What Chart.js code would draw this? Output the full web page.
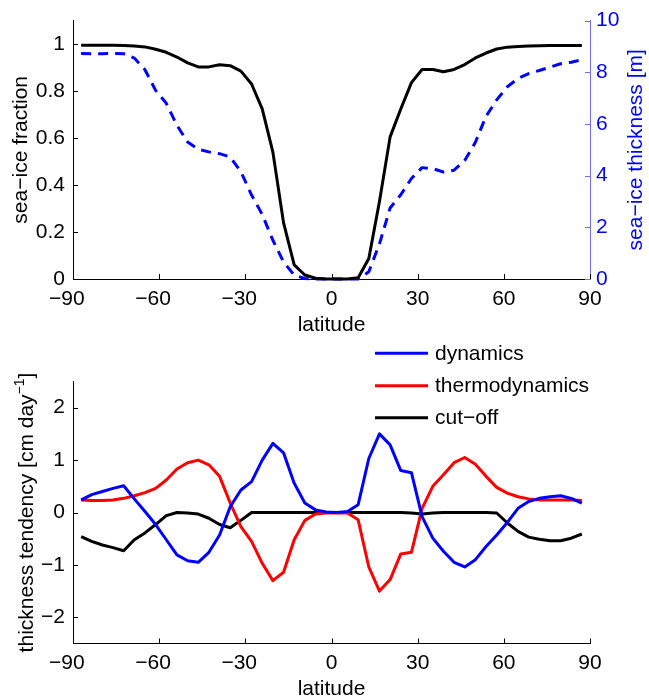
<!DOCTYPE html>
<html><head><meta charset="utf-8">
<script src="https://cdn.jsdelivr.net/npm/chart.js@4.4.0/dist/chart.umd.min.js"></script>
<style>
html,body{margin:0;padding:0;background:#fff;overflow:hidden;width:649px;height:697px}
#c1{position:absolute;left:0;top:0}
#c2{position:absolute;left:0;top:340px}
</style>
</head><body>
<canvas id="c1" width="649" height="340"></canvas>
<canvas id="c2" width="649" height="357"></canvas>
<script>
// ---- data ----
const latitudes = [-87.16,-83.48,-79.78,-76.07,-72.36,-68.65,-64.94,-61.23,-57.52,-53.81,-50.10,-46.39,-42.68,-38.97,-35.26,-31.54,-27.83,-24.12,-20.41,-16.70,-12.99,-9.28,-5.57,-1.86,1.86,5.57,9.28,12.99,16.70,20.41,24.12,27.83,31.54,35.26,38.97,42.68,46.39,50.10,53.81,57.52,61.23,64.94,68.65,72.36,76.07,79.78,83.48,87.16];
const iceFraction = [0.995,0.995,0.995,0.995,0.994,0.992,0.988,0.978,0.965,0.945,0.92,0.903,0.903,0.912,0.908,0.885,0.83,0.724,0.54,0.24,0.06,0.017,0.003,0,0,0,0.005,0.087,0.33,0.605,0.724,0.836,0.892,0.892,0.882,0.892,0.913,0.941,0.962,0.979,0.987,0.99,0.992,0.993,0.994,0.994,0.994,0.994];
const iceThickness = [8.73,8.72,8.72,8.73,8.72,8.55,8.1,7.3,6.8,5.95,5.3,5.02,4.92,4.85,4.72,4.15,3.25,2.5,1.5,0.66,0.15,0.02,0,0,0,0,0,0.28,1.36,2.75,3.26,3.89,4.31,4.27,4.14,4.21,4.59,5.29,6.3,6.93,7.44,7.76,7.95,8.07,8.2,8.33,8.39,8.48];
const dynamics = [0.24,0.34,0.40,0.46,0.51,0.26,0.02,-0.23,-0.52,-0.81,-0.92,-0.95,-0.76,-0.43,0.11,0.43,0.59,1.0,1.32,1.14,0.56,0.18,0.05,0.01,0.0,0.02,0.15,1.03,1.5,1.29,0.8,0.76,-0.08,-0.49,-0.74,-0.95,-1.04,-0.9,-0.65,-0.43,-0.19,0.08,0.21,0.27,0.30,0.32,0.27,0.18];
const thermodynamics = [0.24,0.23,0.23,0.24,0.27,0.32,0.38,0.46,0.62,0.83,0.95,1.0,0.91,0.69,0.18,-0.27,-0.55,-0.97,-1.3,-1.14,-0.52,-0.15,-0.03,-0.01,-0.01,-0.01,-0.14,-1.04,-1.5,-1.28,-0.79,-0.76,0.08,0.5,0.72,0.95,1.05,0.92,0.69,0.48,0.37,0.30,0.26,0.24,0.24,0.24,0.24,0.23];
const cutoff = [-0.46,-0.55,-0.62,-0.67,-0.73,-0.52,-0.39,-0.23,-0.06,0,-0.01,-0.03,-0.11,-0.23,-0.29,-0.15,0,0,0,0,0,0,0,0,0,0,0,0,0,0,0,-0.01,-0.03,-0.01,0,0,0,0,0,-0.01,-0.2,-0.36,-0.47,-0.51,-0.54,-0.54,-0.49,-0.41];
const seriesNames = ['dynamics','thermodynamics','cut\u2212off'];
const xTicks = [-90,-60,-30,0,30,60,90];
const xTickLabels = ['\u221290','\u221260','\u221230','0','30','60','90'];
const fracTicks = [0,0.2,0.4,0.6,0.8,1];
const fracTickLabels = ['0','0.2','0.4','0.6','0.8','1'];
const thickTicks = [0,2,4,6,8,10];
const thickTickLabels = ['0','2','4','6','8','10'];
const tendTicks = [-2,-1,0,1,2];
const tendTickLabels = ['\u22122','\u22121','0','1','2'];

const FONT = "'Liberation Sans', Arial, Helvetica, sans-serif";
const FS = 21;
const pts = vals => latitudes.map((x, i) => ({x, y: vals[i]}));
const setTicks = arr => s => { s.ticks = arr.map(v => ({value: v})); };

function drawParts(ctx, parts, cx, cy, rotate, color) {
  let total = 0;
  parts.forEach(p => { ctx.font = p.size + 'px ' + FONT; p.w = ctx.measureText(p.text).width; total += p.w; });
  ctx.save();
  ctx.translate(cx, cy);
  if (rotate) ctx.rotate(-Math.PI / 2);
  ctx.fillStyle = color;
  ctx.textAlign = 'left';
  ctx.textBaseline = 'alphabetic';
  let x = -total / 2;
  parts.forEach(p => { ctx.font = p.size + 'px ' + FONT; ctx.fillText(p.text, x, -(p.rise || 0)); x += p.w; });
  ctx.restore();
}

const decor = {
  id: 'decor',
  afterDraw(chart, args, o) {
    const ctx = chart.ctx, ca = chart.chartArea;
    ctx.save();
    ctx.lineWidth = 1;
    for (const id in chart.scales) {
      const s = chart.scales[id];
      ctx.strokeStyle = s.options.border.color;
      ctx.beginPath();
      for (const t of s.ticks) {
        const p = Math.round(s.getPixelForValue(t.value)) + 0.5;
        if (s.isHorizontal()) { ctx.moveTo(p, s.top); ctx.lineTo(p, s.top - o.tickLen); }
        else if (s.position === 'left') { ctx.moveTo(s.right, p); ctx.lineTo(s.right + o.tickLen, p); }
        else { ctx.moveTo(s.left, p); ctx.lineTo(s.left - o.tickLen, p); }
      }
      ctx.stroke();
    }
    // x tick labels: digits centred on the tick, minus sign hanging left
    const xs = chart.scales.x;
    ctx.font = FS + 'px ' + FONT;
    ctx.fillStyle = '#000';
    ctx.textAlign = 'right';
    ctx.textBaseline = 'alphabetic';
    xs.ticks.forEach((t, i) => {
      const lab = xTickLabels[i];
      const w = ctx.measureText(lab.replace('\u2212', '')).width;
      ctx.fillText(lab, xs.getPixelForValue(t.value) + w / 2, xs.top + o.xLabelBase);
    });
    // axis titles
    const midX = (ca.left + ca.right) / 2, midY = (ca.top + ca.bottom) / 2;
    o.titles.forEach(tt => {
      if (tt.axis === 'x') drawParts(ctx, tt.parts, midX, xs.top + tt.offset, false, tt.color);
      else drawParts(ctx, tt.parts, tt.x, midY, true, tt.color);
    });
    // legend
    if (o.legend) {
      const L = o.legend;
      chart.data.datasets.forEach((d, i) => {
        const y = L.ys[i];
        ctx.strokeStyle = d.borderColor;
        ctx.lineWidth = d.borderWidth;
        ctx.setLineDash([]);
        ctx.beginPath(); ctx.moveTo(L.x1, y); ctx.lineTo(L.x2, y); ctx.stroke();
        ctx.fillStyle = '#000';
        ctx.font = FS + 'px ' + FONT;
        ctx.textAlign = 'left';
        ctx.textBaseline = 'middle';
        ctx.fillText(d.label, L.tx, y + 1);
      });
    }
    ctx.restore();
  }
};

const xScale = (h) => ({
  type: 'linear', min: -90, max: 90,
  afterBuildTicks: setTicks(xTicks),
  ticks: {display: false},
  grid: {display: false, drawTicks: false},
  border: {display: true, color: '#000', width: 1},
  afterFit: s => { s.height = h; }
});

new Chart(document.getElementById('c1'), {
  type: 'line',
  data: {
    datasets: [
      {label: 'sea\u2212ice fraction', data: pts(iceFraction), yAxisID: 'y', borderColor: '#000', borderWidth: 3, pointRadius: 0, tension: 0, clip: false, borderJoinStyle: 'round'},
      {label: 'sea\u2212ice thickness', data: pts(iceThickness), yAxisID: 'y2', borderColor: '#0000ff', borderWidth: 3, borderDash: [10, 7], pointRadius: 0, tension: 0, clip: false, borderJoinStyle: 'round'}
    ]
  },
  options: {
    responsive: false, animation: false, devicePixelRatio: 1,
    layout: {padding: {top: 17, left: 0, right: 0, bottom: 0}},
    plugins: {
      legend: {display: false}, tooltip: {enabled: false},
      decor: {
        tickLen: 5, xLabelBase: 26,
        titles: [
          {axis: 'x', offset: 51.5, color: '#000', parts: [{text: 'latitude', size: FS}]},
          {axis: 'y', x: 27, color: '#000', parts: [{text: 'sea\u2212ice fraction', size: FS}]},
          {axis: 'y', x: 642, color: '#0000ff', parts: [{text: 'sea\u2212ice thickness [m]', size: FS}]}
        ]
      }
    },
    scales: {
      x: xScale(61),
      y: {
        position: 'left', min: 0, max: 1.1,
        afterBuildTicks: setTicks(fracTicks),
        ticks: {color: '#000', font: {family: FONT, size: FS}, padding: 8, callback: (v, i) => fracTickLabels[i]},
        grid: {display: false, drawTicks: false},
        border: {display: true, color: '#000', width: 1},
        afterFit: s => { s.width = 73; }
      },
      y2: {
        position: 'right', min: 0, max: 10,
        afterBuildTicks: setTicks(thickTicks),
        ticks: {color: '#0000ff', font: {family: FONT, size: FS}, padding: 6, callback: (v, i) => thickTickLabels[i]},
        grid: {display: false, drawTicks: false},
        border: {display: true, color: '#7070ff', width: 1},
        afterFit: s => { s.width = 59; }
      }
    }
  },
  plugins: [decor]
});

const colors = ['#0000ff', '#ff0000', '#000000'];
const tendSeries = [dynamics, thermodynamics, cutoff];
new Chart(document.getElementById('c2'), {
  type: 'line',
  data: {
    datasets: tendSeries.map((vals, i) => ({
      label: seriesNames[i], data: pts(vals), borderColor: colors[i], borderWidth: 3,
      pointRadius: 0, tension: 0, clip: false, borderJoinStyle: 'round'
    }))
  },
  options: {
    responsive: false, animation: false, devicePixelRatio: 1,
    layout: {padding: {top: 41.5, left: 0, right: 59, bottom: 0}},
    plugins: {
      legend: {display: false}, tooltip: {enabled: false},
      decor: {
        tickLen: 5, xLabelBase: 25,
        titles: [
          {axis: 'x', offset: 51.5, color: '#000', parts: [{text: 'latitude', size: FS}]},
          {axis: 'y', x: 33, color: '#000', parts: [
            {text: 'thickness tendency [cm day', size: FS},
            {text: '\u22121', size: 14, rise: 9},
            {text: ']', size: FS}
          ]}
        ],
        legend: {x1: 375, x2: 428, tx: 435, ys: [13.3, 45.7, 77.7]}
      }
    },
    scales: {
      x: xScale(53.5),
      y: {
        position: 'left', min: -2.5, max: 2.5,
        afterBuildTicks: setTicks(tendTicks),
        ticks: {color: '#000', font: {family: FONT, size: FS}, padding: 8, callback: (v, i) => tendTickLabels[i]},
        grid: {display: false, drawTicks: false},
        border: {display: true, color: '#000', width: 1},
        afterFit: s => { s.width = 73; }
      }
    }
  },
  plugins: [decor]
});
</script>
</body></html>
